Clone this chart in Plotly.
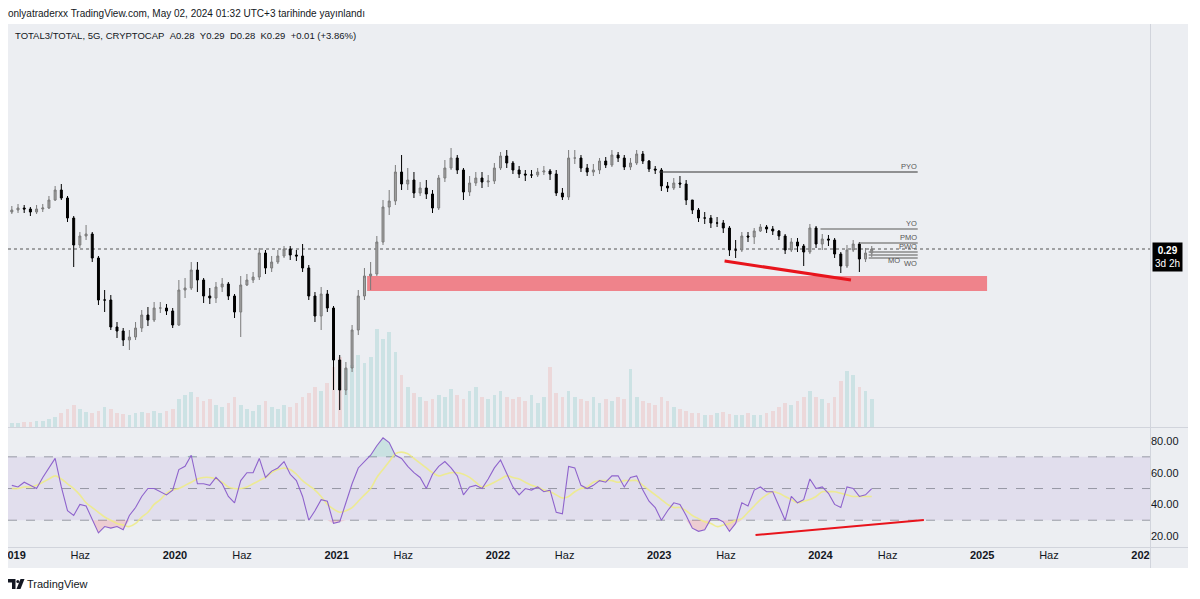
import pandas as pd
import plotly.graph_objects as go

# ---------------- data ----------------
candle_start = "2018-12-28"          # 14-day candles
first_open = 0.327
close = [0.329,0.331,0.330,0.327,0.330,0.331,0.339,0.349,0.341,0.321,
         0.294,0.303,0.305,0.281,0.239,0.239,0.212,0.208,0.199,0.202,
         0.211,0.224,0.219,0.231,0.231,0.228,0.214,0.249,0.251,0.269,
         0.259,0.243,0.241,0.252,0.255,0.243,0.227,0.254,0.259,0.262,
         0.286,0.271,0.277,0.283,0.290,0.284,0.283,0.271,0.243,0.223,
         0.245,0.231,0.179,0.149,0.171,0.209,0.243,0.263,0.265,0.297,
         0.332,0.338,0.367,0.355,0.359,0.346,0.351,0.345,0.331,0.361,
         0.371,0.381,0.369,0.347,0.356,0.361,0.357,0.358,0.371,0.383,
         0.376,0.369,0.365,0.364,0.364,0.367,0.368,0.365,0.346,0.342,
         0.381,0.381,0.371,0.367,0.369,0.378,0.374,0.384,0.381,0.372,
         0.376,0.385,0.378,0.370,0.369,0.353,0.351,0.356,0.355,0.339,
         0.329,0.321,0.321,0.316,0.316,0.311,0.289,0.289,0.303,0.302,
         0.308,0.312,0.310,0.308,0.303,0.289,0.297,0.293,0.287,0.311,
         0.295,0.300,0.299,0.285,0.273,0.289,0.295,0.280,0.286,0.290]
high = [0.333,0.335,0.334,0.332,0.334,0.335,0.343,0.353,0.355,0.343,
        0.323,0.307,0.314,0.307,0.283,0.249,0.244,0.217,0.211,0.209,
        0.217,0.229,0.232,0.237,0.237,0.235,0.231,0.259,0.261,0.277,
        0.277,0.261,0.251,0.257,0.261,0.257,0.245,0.263,0.265,0.267,
        0.291,0.289,0.283,0.289,0.293,0.293,0.289,0.295,0.274,0.247,
        0.252,0.249,0.233,0.184,0.177,0.214,0.249,0.271,0.277,0.303,
        0.339,0.349,0.374,0.384,0.371,0.367,0.357,0.359,0.349,0.364,
        0.379,0.391,0.384,0.371,0.363,0.367,0.367,0.364,0.376,0.387,
        0.389,0.378,0.373,0.369,0.369,0.371,0.373,0.370,0.369,0.351,
        0.389,0.389,0.384,0.375,0.375,0.381,0.382,0.389,0.387,0.384,
        0.381,0.389,0.388,0.379,0.373,0.371,0.357,0.361,0.363,0.359,
        0.339,0.331,0.327,0.324,0.322,0.319,0.313,0.299,0.307,0.307,
        0.311,0.315,0.314,0.313,0.309,0.305,0.301,0.301,0.295,0.315,
        0.313,0.305,0.304,0.301,0.287,0.294,0.299,0.297,0.291,0.293]
low = [0.325,0.326,0.326,0.323,0.325,0.327,0.330,0.338,0.339,0.317,
       0.272,0.291,0.299,0.277,0.234,0.227,0.209,0.201,0.193,0.189,
       0.199,0.207,0.213,0.217,0.226,0.224,0.211,0.213,0.241,0.249,
       0.247,0.236,0.235,0.236,0.247,0.239,0.221,0.202,0.253,0.256,
       0.259,0.265,0.267,0.275,0.281,0.279,0.278,0.267,0.239,0.217,
       0.209,0.227,0.149,0.129,0.144,0.167,0.204,0.239,0.249,0.263,
       0.294,0.324,0.334,0.349,0.349,0.341,0.343,0.340,0.326,0.329,
       0.357,0.369,0.365,0.339,0.343,0.353,0.351,0.352,0.355,0.369,
       0.371,0.365,0.361,0.358,0.361,0.362,0.364,0.359,0.343,0.339,
       0.339,0.375,0.367,0.363,0.363,0.365,0.371,0.372,0.377,0.369,
       0.369,0.374,0.375,0.367,0.365,0.348,0.347,0.349,0.351,0.334,
       0.325,0.317,0.315,0.311,0.312,0.306,0.283,0.281,0.287,0.297,
       0.295,0.307,0.306,0.304,0.299,0.285,0.287,0.287,0.273,0.285,
       0.291,0.289,0.293,0.281,0.266,0.271,0.287,0.267,0.277,0.282]
volume = [4,4,5,5,6,6,8,
          10,14,18,22,18,15,
          14,16,20,18,14,13,12,14,
          15,14,16,14,16,18,
          28,32,35,30,26,28,22,20,24,
          30,22,18,16,22,26,20,18,22,20,24,
          30,34,40,36,44,
          60,70,58,62,72,64,70,
          98,88,95,75,52,
          40,34,30,26,28,32,30,
          38,32,28,36,40,30,28,32,36,30,
          28,30,26,32,24,30,60,34,30,
          36,30,28,26,30,24,28,26,30,28,58,
          30,26,24,22,30,26,20,18,16,14,
          14,12,12,14,15,13,12,12,14,12,
          12,14,16,20,24,22,26,30,
          36,30,28,24,30,46,
          56,52,40,36,28]
rsi = [52,51,54,52,50,57,63,69,51,36,
       33,40,39,30,22,26,25,26,24,33,
       38,45,50,50,48,46,49,62,64,71,
       53,53,52,57,53,45,41,55,60,60,
       69,57,61,63,67,59,55,45,30,36,
       43,42,28,29,41,53,63,67,71,77,
       82,79,71,69,64,60,57,50,59,64,
       67,63,58,46,51,52,50,56,63,68,
       59,51,46,50,49,51,48,49,35,34,
       64,63,52,50,52,55,54,58,58,51,
       57,58,49,42,38,30,36,41,40,33,
       25,23,24,31,31,29,23,28,41,39,
       49,51,48,48,39,30,45,41,43,56,
       50,51,47,40,38,51,50,45,46,50]
rsi_ma = [50,50,51,51,52,54,56,58,56,53,
          50,46,41,38,35,32,30,28,27,26,
          28,32,35,40,43,47,49,50,52,54,
          56,57,57,56,54,51,50,50,51,53,
          55,57,60,62,63,62,59,55,52,49,
          45,40,37,35,36,38,42,46,50,57,
          62,67,72,73,72,69,66,63,60,58,
          59,60,60,59,57,54,51,52,54,56,
          58,57,56,54,52,51,49,48,46,44,
          45,48,50,51,54,55,55,55,54,55,
          55,55,52,49,46,43,40,38,38,36,
          33,31,29,28,26,27,28,30,31,35,
          39,43,46,48,47,45,43,41,42,43,
          45,48,48,48,47,46,45,45,45,45]

level_names = ["PYO", "YO", "PMO", "PWO", "MO", "WO"]
level_start = ["2023-01-01", "2024-01-01", "2024-03-29", "2024-04-19", "2024-04-19", "2024-04-19"]
level_price = [0.367, 0.310, 0.296, 0.287, 0.284, 0.281]
level_end = "2024-08-08"

zone_dates = ["2021-03-11", "2025-01-12"]
zone_prices = [0.248, 0.263]
trend_dates = ["2023-05-29", "2024-03-10"]
trend_prices = [0.278, 0.259]
rsi_trend_dates = ["2023-08-07", "2024-08-22"]
rsi_trend_values = [20.7, 30.1]
last_price = 0.29

tick_dates = ["2019-01-01", "2019-06-01", "2020-01-01", "2020-06-01", "2021-01-01", "2021-06-01",
              "2022-01-01", "2022-06-01", "2023-01-01", "2023-06-01", "2024-01-01", "2024-06-01",
              "2025-01-01", "2025-06-01", "2026-01-01"]
tick_text = ["<b>2019</b>", "Haz", "<b>2020</b>", "Haz", "<b>2021</b>", "Haz", "<b>2022</b>", "Haz",
             "<b>2023</b>", "Haz", "<b>2024</b>", "Haz", "<b>2025</b>", "Haz", "<b>2026</b>"]

# ---------------- figure ----------------
dates = pd.date_range(candle_start, periods=len(close), freq="14D")
open_ = [first_open] + close[:-1]
vol_colors = ["rgba(38,166,154,0.16)" if c >= o else "rgba(239,83,80,0.14)" for o, c in zip(open_, close)]
rsi_low = [min(v, 30) for v in rsi]
rsi_high = [max(v, 70) for v in rsi]

BG = "#eceef2"
W, H = 1200, 599
L, R, T, B = 8, 50, 25, 52
PW, PH = W - L - R, H - T - B


def pxx(x):
    return (x - L) / PW


def pyy(y):
    return (H - B - y) / PH


main_dom = [pyy(427), 1.0]
rsi_dom = [0.0, pyy(428)]

fig = go.Figure()
fig.add_trace(go.Bar(x=dates, y=volume, marker_color=vol_colors, marker_line_width=0,
                     width=14 * 0.6 * 86400000, yaxis="y", xaxis="x", showlegend=False))
fig.add_trace(go.Candlestick(x=dates, open=open_, high=high, low=low, close=close,
                             increasing=dict(line=dict(color="#7a7a7a", width=1), fillcolor="#a3a3a3"),
                             decreasing=dict(line=dict(color="#000000", width=1), fillcolor="#000000"),
                             whiskerwidth=0, yaxis="y3", xaxis="x", showlegend=False))
fig.add_trace(go.Scatter(x=dates, y=[30] * len(rsi), mode="lines", line=dict(width=0), yaxis="y2", xaxis="x",
                         showlegend=False, hoverinfo="skip"))
fig.add_trace(go.Scatter(x=dates, y=rsi_low, mode="lines", line=dict(width=0), fill="tonexty",
                         fillcolor="rgba(242,54,69,0.18)", yaxis="y2", xaxis="x", showlegend=False, hoverinfo="skip"))
fig.add_trace(go.Scatter(x=dates, y=[70] * len(rsi), mode="lines", line=dict(width=0), yaxis="y2", xaxis="x",
                         showlegend=False, hoverinfo="skip"))
fig.add_trace(go.Scatter(x=dates, y=rsi_high, mode="lines", line=dict(width=0), fill="tonexty",
                         fillcolor="rgba(8,153,129,0.15)", yaxis="y2", xaxis="x", showlegend=False, hoverinfo="skip"))
fig.add_trace(go.Scatter(x=dates, y=rsi_ma, mode="lines", line=dict(color="rgba(238,236,130,0.85)", width=1.6, shape="spline"),
                         yaxis="y2", xaxis="x", showlegend=False))
fig.add_trace(go.Scatter(x=dates, y=rsi, mode="lines", line=dict(color="#8e63cc", width=1.1),
                         yaxis="y2", xaxis="x", showlegend=False))

shapes = []
shapes.append(dict(type="rect", xref="paper", yref="paper", x0=pxx(8), x1=pxx(1188), y0=pyy(568), y1=pyy(24),
                   fillcolor=BG, line_width=0, layer="below"))
shapes.append(dict(type="rect", xref="paper", yref="y2", x0=0, x1=1, y0=30, y1=70,
                   fillcolor="rgba(126,87,194,0.10)", line_width=0, layer="below"))
for lv in (70, 50, 30):
    shapes.append(dict(type="line", xref="paper", yref="y2", x0=0, x1=1, y0=lv, y1=lv,
                       line=dict(color="rgba(120,123,134,0.7)", width=1, dash="dash"), layer="below"))
shapes.append(dict(type="rect", xref="x", yref="y3", x0=zone_dates[0], x1=zone_dates[1],
                   y0=zone_prices[0], y1=zone_prices[1], fillcolor="rgba(242,60,70,0.6)", line_width=0, layer="below"))
shapes.append(dict(type="line", xref="paper", yref="y3", x0=0, x1=1, y0=last_price, y1=last_price,
                   line=dict(color="#555555", width=1, dash="dot"), layer="below"))
for name, st, pr in zip(level_names, level_start, level_price):
    shapes.append(dict(type="line", xref="x", yref="y3", x0=st, x1=level_end, y0=pr, y1=pr,
                       line=dict(color="#333333" if name == "PYO" else "#8a8a8a", width=1 if name == "PYO" else 1.6)))
shapes.append(dict(type="line", xref="x", yref="y3", x0=trend_dates[0], x1=trend_dates[1],
                   y0=trend_prices[0], y1=trend_prices[1], line=dict(color="#e8141c", width=3)))
shapes.append(dict(type="line", xref="x", yref="y2", x0=rsi_trend_dates[0], x1=rsi_trend_dates[1],
                   y0=rsi_trend_values[0], y1=rsi_trend_values[1], line=dict(color="#e8141c", width=2)))
shapes.append(dict(type="rect", xref="paper", yref="paper", x0=pxx(-2), x1=pxx(8), y0=pyy(570), y1=pyy(546),
                   fillcolor="white", line_width=0, layer="above"))
shapes.append(dict(type="rect", xref="paper", yref="paper", x0=pxx(1150), x1=pxx(1188), y0=pyy(568), y1=pyy(548),
                   fillcolor=BG, line_width=0, layer="above"))
sep = "#d1d4dc"
shapes.append(dict(type="line", xref="paper", yref="paper", x0=0, x1=pxx(1188), y0=pyy(427.5), y1=pyy(427.5),
                   line=dict(color=sep, width=1), layer="above"))
shapes.append(dict(type="line", xref="paper", yref="paper", x0=0, x1=pxx(1188), y0=pyy(547.5), y1=pyy(547.5),
                   line=dict(color=sep, width=1), layer="above"))
shapes.append(dict(type="line", xref="paper", yref="paper", x0=pxx(1150.5), x1=pxx(1150.5), y0=pyy(568), y1=pyy(24),
                   line=dict(color=sep, width=1), layer="above"))


def ppath(pts):
    return "M " + " L ".join(f"{pxx(a):.5f},{pyy(b):.5f}" for a, b in pts) + " Z"


shapes.append(dict(type="path", xref="paper", yref="paper",
                   path=ppath([(8, 579), (15.5, 579), (15.5, 589), (12, 589), (12, 582.5), (8, 582.5)]),
                   fillcolor="#131722", line_width=0))
shapes.append(dict(type="circle", xref="paper", yref="paper", x0=pxx(16.3), x1=pxx(19.3), y0=pyy(583), y1=pyy(580),
                   fillcolor="#131722", line_width=0))
shapes.append(dict(type="path", xref="paper", yref="paper",
                   path=ppath([(20.5, 579), (24.5, 579), (20.5, 589), (16.5, 589)]),
                   fillcolor="#131722", line_width=0))

annotations = []
FONT = "Liberation Sans"
annotations.append(dict(xref="paper", yref="paper", x=pxx(6), y=pyy(13), xanchor="left", yanchor="middle",
                        text="onlyatraderxx TradingView.com, May 02, 2024 01:32 UTC+3 tarihinde yayınlandı",
                        showarrow=False, font=dict(size=10, color="#131722", family=FONT)))
annotations.append(dict(xref="paper", yref="paper", x=pxx(13), y=pyy(36), xanchor="left", yanchor="middle",
                        text="TOTAL3/TOTAL, 5G, CRYPTOCAP\u00a0\u00a0A0.28\u00a0\u00a0Y0.29\u00a0\u00a0D0.28\u00a0\u00a0K0.29\u00a0\u00a0+0.01 (+3.86%)",
                        showarrow=False, font=dict(size=9.5, color="#131722", family=FONT)))
annotations.append(dict(xref="paper", yref="paper", x=pxx(25), y=pyy(584), xanchor="left", yanchor="middle",
                        text="TradingView", showarrow=False, font=dict(size=11, color="#131722", family=FONT)))
label_pos = {"PYO": (0, "bottom"), "YO": (0, "bottom"), "PMO": (0, "bottom"),
             "PWO": (0, "bottom"), "MO": (-17, "top"), "WO": (0, "top")}
for name, pr in zip(level_names, level_price):
    xs, ya = label_pos[name]
    annotations.append(dict(xref="x", yref="y3", x=level_end, y=pr, xanchor="right", yanchor=ya, xshift=xs,
                            text=name, showarrow=False, borderpad=0,
                            font=dict(size=7.5, color="#555555", family=FONT)))
annotations.append(dict(xref="paper", yref="y3", x=1.0, xshift=2, y=last_price, yshift=7, xanchor="left", yanchor="top",
                        text="<b>0.29</b><br>3d 2h", showarrow=False, align="center", bgcolor="#000000",
                        borderpad=2, font=dict(size=10, color="white", family=FONT)))

fig.update_layout(
    width=W, height=H, margin=dict(l=L, r=R, t=T, b=B, autoexpand=False),
    paper_bgcolor="white", plot_bgcolor=BG,
    showlegend=False, bargap=0, boxgap=0.55,
    shapes=shapes, annotations=annotations,
    font=dict(family=FONT, color="#131722"),
    xaxis=dict(type="date", range=["2018-12-19 08:00", "2026-01-15 17:00"], anchor="y2",
               tickvals=tick_dates, ticktext=tick_text, showgrid=False, zeroline=False,
               ticks="", tickfont=dict(size=11, color="#131722"), rangeslider=dict(visible=False),
               showline=False, ticklabeloverflow="allow", automargin=False),
    yaxis=dict(domain=main_dom, range=[0, 402], visible=False, fixedrange=True, automargin=False),
    yaxis3=dict(domain=main_dom, range=[0.112, 0.514], overlaying="y", anchor="x", showticklabels=False,
                showgrid=False, zeroline=False, ticks="", automargin=False),
    yaxis2=dict(domain=rsi_dom, range=[13.1, 88.2], anchor="x", side="right",
                tickvals=[20, 40, 60, 80], ticktext=["20.00", "40.00", "60.00", "80.00"],
                showgrid=False, zeroline=False, ticks="", tickfont=dict(size=11, color="#131722"),
                automargin=False),
)

fig.write_html("out.html", config={"displayModeBar": False},
               post_script="document.body.style.margin='0px';")
